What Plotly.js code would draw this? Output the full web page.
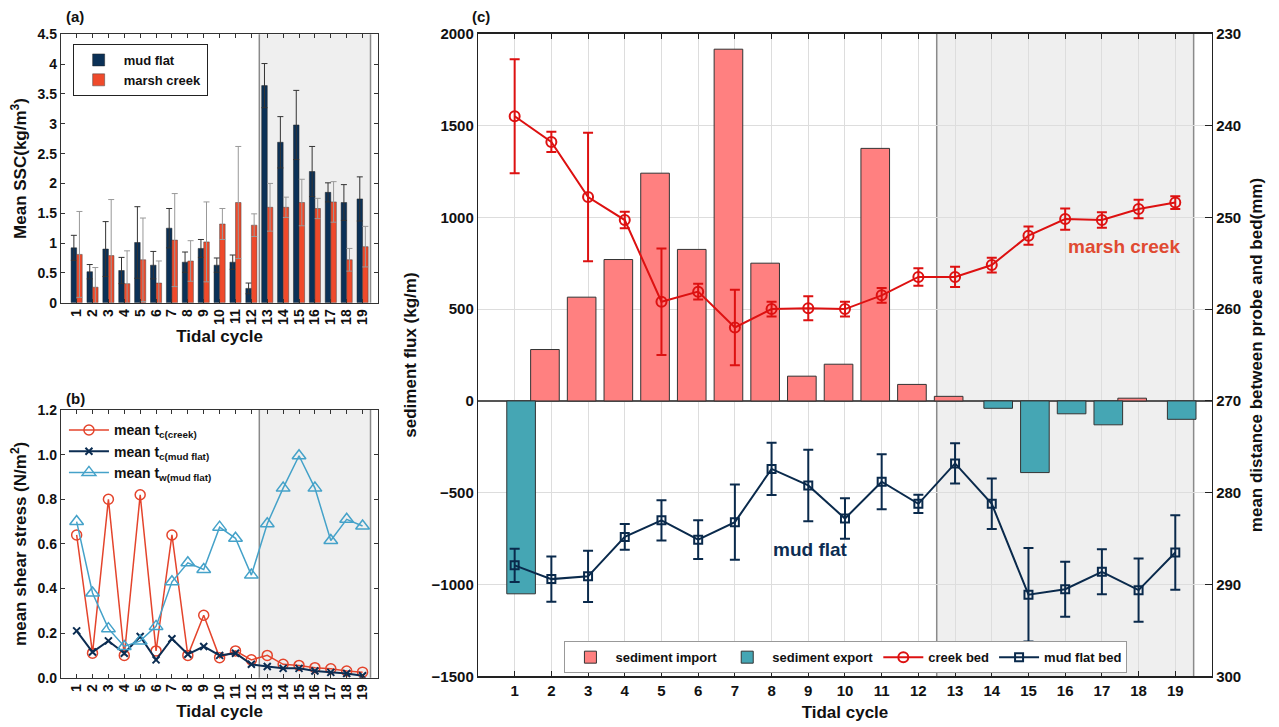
<!DOCTYPE html>
<html>
<head>
<meta charset="utf-8">
<script src="https://cdn.plot.ly/plotly-3.0.1.min.js"></script>
<style>html,body{margin:0;padding:0;background:#fff;}#chart{width:1279px;height:727px;}</style>
</head>
<body>
<div id="chart"></div>
<script>
// ---------- data ----------
const cycles = [1,2,3,4,5,6,7,8,9,10,11,12,13,14,15,16,17,18,19];
const cycleLabels = ["1","2","3","4","5","6","7","8","9","10","11","12","13","14","15","16","17","18","19"];

// (a) mean SSC (kg/m3)
const sscMud      = [0.92,0.52,0.90,0.54,1.01,0.63,1.25,0.68,0.91,0.63,0.68,0.24,3.64,2.69,2.98,2.20,1.85,1.68,1.74];
const sscMudErr   = [0.21,0.12,0.46,0.22,0.60,0.23,0.33,0.17,0.15,0.12,0.12,0.09,0.37,0.43,0.58,0.42,0.16,0.30,0.37];
const sscCreek    = [0.81,0.26,0.79,0.32,0.72,0.33,1.05,0.70,1.02,1.32,1.68,1.30,1.60,1.60,1.68,1.58,1.69,0.72,0.94];
const sscCreekErr = [0.72,0.33,0.94,0.55,0.70,0.37,0.78,0.34,0.67,0.26,0.94,0.19,0.40,0.17,0.39,0.17,0.34,0.19,0.34];

// (b) mean shear stress (N/m2)
const tauCreek = [0.64,0.11,0.80,0.10,0.82,0.12,0.64,0.10,0.28,0.09,0.12,0.08,0.10,0.06,0.055,0.045,0.04,0.03,0.025];
const tauMud   = [0.21,0.115,0.165,0.11,0.185,0.08,0.175,0.105,0.14,0.10,0.11,0.06,0.05,0.042,0.042,0.03,0.024,0.019,0.009];
const tauWave  = [0.70,0.38,0.22,0.14,0.165,0.23,0.43,0.515,0.485,0.675,0.625,0.46,0.69,0.85,0.995,0.85,0.615,0.71,0.68];

// (c) sediment flux (kg/m) and bed distance (mm)
const flux = [-1050,280,565,770,1240,825,1915,750,135,200,1375,90,25,-40,-390,-70,-130,15,-100];
const creekBed    = [239.0,241.8,247.8,250.3,259.2,258.1,262.0,260.0,259.9,260.0,258.5,256.5,256.5,255.2,252.0,250.2,250.3,249.1,248.4];
const creekBedErr = [6.2,1.1,7.0,0.9,5.8,0.85,4.1,0.8,1.3,0.8,0.8,0.95,1.1,0.8,1.0,1.15,0.85,1.0,0.7];
const mudBed      = [287.9,289.4,289.1,284.8,283.0,285.1,283.2,277.4,279.2,282.8,278.8,281.2,276.8,281.2,291.1,290.5,288.6,290.6,286.5];
const mudBedErr   = [1.8,2.45,2.8,1.4,2.2,2.1,4.1,2.85,3.9,2.2,3.0,1.0,2.2,2.75,5.1,3.0,2.45,3.45,4.05];

// ---------- styling ----------
const FONT = "Liberation Sans, Arial, sans-serif";
const cMud = "#0b3157", cCreek = "#ef4a2b";
const cRedB = "#e4442c", cNavy = "#0c2d52", cLight = "#45a2c9";
const cImport = "#ff8080", cExport = "#45a6b4";
const cBedRed = "#dd1111", cBedNavy = "#0a2a4c";

const importVals = flux.map(v => v > 0 ? v : null);
const exportVals = flux.map(v => v < 0 ? v : null);

const traces = [
  // (a)
  {type:"bar", x:cycles, y:sscMud, name:"mud flat", xaxis:"x", yaxis:"y", legend:"legend",
   marker:{color:cMud, line:{color:"#222", width:0.5}},
   error_y:{type:"data", array:sscMudErr, visible:true, color:"#333", thickness:1, width:3}},
  {type:"bar", x:cycles, y:sscCreek, name:"marsh creek", xaxis:"x", yaxis:"y", legend:"legend",
   marker:{color:cCreek, line:{color:"#444", width:0.5}},
   error_y:{type:"data", array:sscCreekErr, visible:true, color:"#999", thickness:1, width:3}},
  // (b)
  {type:"scatter", mode:"lines+markers", x:cycles, y:tauCreek, name:"mean t<sub>c(creek)</sub>",
   xaxis:"x2", yaxis:"y2", legend:"legend2",
   line:{color:cRedB, width:1.5}, marker:{symbol:"circle-open", size:10, color:cRedB, line:{width:1.5}}},
  {type:"scatter", mode:"lines+markers", x:cycles, y:tauMud, name:"mean t<sub>c(mud flat)</sub>",
   xaxis:"x2", yaxis:"y2", legend:"legend2",
   line:{color:cNavy, width:2}, marker:{symbol:"x-thin-open", size:7, color:cNavy, line:{width:2, color:cNavy}}},
  {type:"scatter", mode:"lines+markers", x:cycles, y:tauWave, name:"mean t<sub>w(mud flat)</sub>",
   xaxis:"x2", yaxis:"y2", legend:"legend2",
   line:{color:cLight, width:1.5}, marker:{symbol:"triangle-up-open", size:12, color:cLight, line:{width:1.5}}},
  // (c)
  {type:"bar", x:cycles, y:importVals, name:"sediment import", xaxis:"x3", yaxis:"y3", legend:"legend3",
   marker:{color:cImport, line:{color:"#333", width:1}}, width:0.78},
  {type:"bar", x:cycles, y:exportVals, name:"sediment export", xaxis:"x3", yaxis:"y3", legend:"legend3",
   marker:{color:cExport, line:{color:"#333", width:1}}, width:0.78},
  {type:"scatter", mode:"lines+markers", x:cycles, y:creekBed, name:"creek bed", xaxis:"x3", yaxis:"y4", legend:"legend3",
   line:{color:cBedRed, width:2}, marker:{symbol:"circle-open", size:10, color:cBedRed, line:{width:2}},
   error_y:{type:"data", array:creekBedErr, visible:true, color:cBedRed, thickness:2, width:5}},
  {type:"scatter", mode:"lines+markers", x:cycles, y:mudBed, name:"mud flat bed", xaxis:"x3", yaxis:"y4", legend:"legend3",
   line:{color:cBedNavy, width:2}, marker:{symbol:"square-open", size:8, color:cBedNavy, line:{width:2}},
   error_y:{type:"data", array:mudBedErr, visible:true, color:cBedNavy, thickness:2, width:5}}
];

const tickF = s => ({family:FONT, size:s, color:"#111", weight:"bold"});
const titleF = s => ({family:FONT, size:s, color:"#111", weight:"bold"});

function shade(xr, yr) {
  return [
    {type:"rect", xref:xr, yref:yr+" domain", x0:12.5, x1:19.5, y0:0, y1:1, fillcolor:"#efefef", line:{width:0}, layer:"below"},
    {type:"line", xref:xr, yref:yr+" domain", x0:12.5, x1:12.5, y0:0, y1:1, line:{color:"#8a8a8a", width:1.5}, layer:"below"},
    {type:"line", xref:xr, yref:yr+" domain", x0:19.5, x1:19.5, y0:0, y1:1, line:{color:"#8a8a8a", width:1.5}, layer:"below"}
  ];
}

const smallX = (dom, anchor) => ({
  domain:dom, anchor:anchor, range:[0,20], tickmode:"array", tickvals:cycles, ticktext:cycleLabels,
  tickangle:-90, tickfont:tickF(14), ticks:"inside", ticklen:4, tickcolor:"#333",
  showline:true, linecolor:"#333", linewidth:1, mirror:"ticks", showgrid:false, zeroline:false,
  title:{text:"Tidal cycle", font:titleF(17), standoff:6}
});

const layout = {
  width:1279, height:727,
  margin:{l:0, r:0, t:0, b:0},
  paper_bgcolor:"#fff", plot_bgcolor:"#fff",
  font:{family:FONT, color:"#111"},
  barmode:"group", bargap:0.3, bargroupgap:0,
  showlegend:true,
  // (a)
  xaxis: smallX([0.0475,0.2959], "y"),
  yaxis:{domain:[0.5836,0.9528], anchor:"x", range:[0,4.5], dtick:0.5, tickfont:tickF(14),
    ticks:"inside", ticklen:4, tickcolor:"#333", showline:true, linecolor:"#333", mirror:"ticks",
    showgrid:false, zeroline:false,
    title:{text:"Mean SSC(kg/m<sup>3</sup>)", font:titleF(17), standoff:6}},
  // (b)
  xaxis2: smallX([0.0475,0.2959], "y2"),
  yaxis2:{domain:[0.0678,0.4360], anchor:"x2", range:[0,1.2], dtick:0.2, tickformat:".1f", tickfont:tickF(14),
    ticks:"inside", ticklen:4, tickcolor:"#333", showline:true, linecolor:"#333", mirror:"ticks",
    showgrid:false, zeroline:false,
    title:{text:"mean shear stress (N/m<sup>2</sup>)", font:titleF(17), standoff:6}},
  // (c)
  xaxis3:{domain:[0.3737,0.9476], anchor:"y3", range:[0,20], tickmode:"array", tickvals:cycles, ticktext:cycleLabels,
    tickangle:0, tickfont:tickF(15), ticks:"inside", ticklen:5, tickcolor:"#222",
    showline:true, linecolor:"#222", linewidth:1.2, mirror:"ticks",
    showgrid:true, gridcolor:"#dddddd", gridwidth:1, zeroline:false,
    title:{text:"Tidal cycle", font:titleF(17), standoff:8}},
  yaxis3:{domain:[0.0695,0.9538], anchor:"x3", range:[-1500,2000], dtick:500, tickfont:tickF(15),
    ticks:"", showline:true, linecolor:"#222", linewidth:1.2,
    showgrid:true, gridcolor:"#dddddd", gridwidth:1, zeroline:true, zerolinecolor:"#555", zerolinewidth:1.2,
    title:{text:"sediment flux (kg/m)", font:titleF(17), standoff:10}},
  yaxis4:{overlaying:"y3", side:"right", anchor:"x3", range:[300,230], dtick:10, tickfont:tickF(15),
    ticks:"inside", ticklen:7, tickcolor:"#222", showline:true, linecolor:"#222", linewidth:1.2,
    showgrid:false, zeroline:false,
    title:{text:"mean distance between probe and bed(mm)", font:titleF(17), standoff:10}},
  legend:{x:0.0568, y:0.9395, xanchor:"left", yanchor:"top", bgcolor:"#fff", bordercolor:"#222", borderwidth:1,
    font:{family:FONT, size:13, color:"#111", weight:"bold"}, tracegroupgap:0, itemwidth:40},
  legend2:{x:0.050, y:0.430, xanchor:"left", yanchor:"top", bgcolor:"rgba(0,0,0,0)", borderwidth:0,
    font:{family:FONT, size:14, color:"#111", weight:"bold"}, tracegroupgap:0, itemwidth:40},
  legend3:{orientation:"h", x:0.6614, y:0.096, xanchor:"center", yanchor:"middle", bgcolor:"#fff",
    bordercolor:"#999", borderwidth:1, font:{family:FONT, size:13, color:"#111", weight:"bold"}, itemwidth:40},
  shapes: [].concat(shade("x","y"), shade("x2","y2"), shade("x3","y3")),
  annotations:[
    {text:"(a)", xref:"paper", yref:"paper", x:64/1279, y:1-16/727, showarrow:false, xanchor:"left", yanchor:"middle",
     font:{family:FONT, size:15, color:"#111", weight:"bold"}},
    {text:"(b)", xref:"paper", yref:"paper", x:64/1279, y:1-398/727, showarrow:false, xanchor:"left", yanchor:"middle",
     font:{family:FONT, size:15, color:"#111", weight:"bold"}},
    {text:"(c)", xref:"paper", yref:"paper", x:470/1279, y:1-16/727, showarrow:false, xanchor:"left", yanchor:"middle",
     font:{family:FONT, size:15, color:"#111", weight:"bold"}},
    {text:"marsh creek", xref:"x3", yref:"y3", x:17.6, y:840, showarrow:false,
     font:{family:FONT, size:19, color:"#e04a32", weight:"bold"}},
    {text:"mud flat", xref:"x3", yref:"y3", x:9.05, y:-811, showarrow:false,
     font:{family:FONT, size:19, color:"#0c2d52", weight:"bold"}}
  ]
};

Plotly.newPlot("chart", traces, layout, {displayModeBar:false, staticPlot:true});
</script>
</body>
</html>
